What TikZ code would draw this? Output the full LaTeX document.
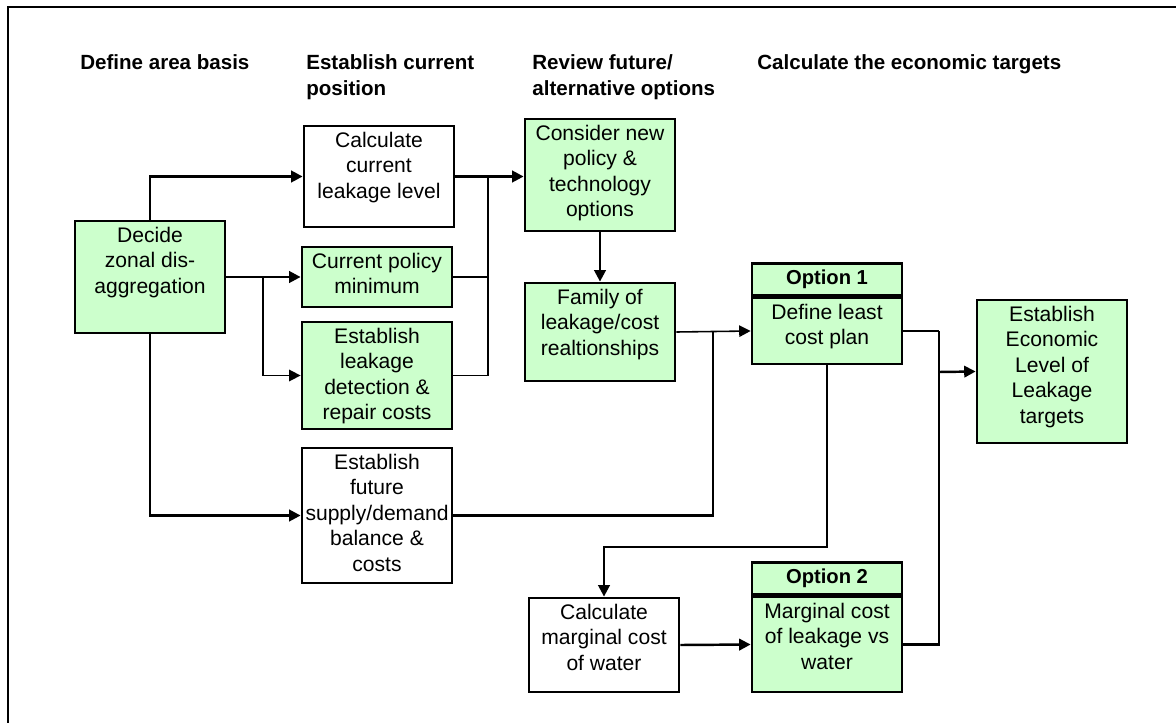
\documentclass[tikz,border=0pt]{standalone}
\usepackage{fontspec}
\setmainfont{Liberation Sans}
\usetikzlibrary{arrows.meta,positioning}
\definecolor{paleGreen}{HTML}{CCFFCC}
\newcommand{\boxtext}[2]{\parbox[c][#1][t]{2.9cm}{\centering\vspace*{0.12cm}#2}}

\begin{document}
\begin{tikzpicture}
    [
      x=0.02cm,
      y=-0.02cm,
      box/.style=
      {
        draw,
        line width=1.6pt,
        inner sep=0pt,
        minimum width=3cm,
        fill=white,
        text=black,
        font=\fontsize{12}{14.5}\selectfont
      },
      greenbox/.style=
      {
        box,
        fill=paleGreen
      },
      optbox/.style=
      {
        greenbox,
        minimum height=0.64cm,
        font=\fontsize{11.5}{14}\selectfont\bfseries
      },
      heading/.style=
      {
        anchor=north west,
        align=left,
        inner sep=0pt,
        font=\fontsize{11.7}{14.7}\selectfont\bfseries
      },
      conn/.style={line width=1.4pt},
      thinconn/.style={line width=0.9pt},
      arrowed/.style={-{Triangle[length=6.5pt,width=6.5pt]}}
    ]
    \useasboundingbox (0,0) rectangle (1176,723);
    \draw[line width=1.1pt] (8,723) -- (8,7) -- (1176,7);

    % column headings
    \node[heading] (AreaHead) at (80,54) {Define area basis};
    \node[heading] (PositionHead) at (306,54) {Establish current\\position};
    \node[heading] (OptionsHead) at (532,54) {Review future/\\alternative options};
    \node[heading] (TargetsHead) at (757,54) {Calculate the economic targets};

    % boxes
    \node[greenbox] (Decide) at (150,277)
    {
      \boxtext{2.24cm}{Decide\\zonal dis-\\aggregation}
    };
    \node[box] (CalcLeakage) at (379,176.5)
    {
      \boxtext{2.02cm}{Calculate\\current\\leakage level}
    };
    \node[greenbox] (PolicyMin) at (377,277)
    {
      \boxtext{1.2cm}{Current policy\\minimum}
    };
    \node[greenbox] (DetectCosts) at (377,375.5)
    {
      \boxtext{2.14cm}{Establish\\leakage\\detection \&\\repair costs}
    };
    \node[box] (FutureBalance) at (377,515.5)
    {
      \boxtext{2.7cm}{Establish\\future\\supply/demand\\balance \&\\costs}
    };
    \node[greenbox] (NewOptions) at (600,175)
    {
      \boxtext{2.24cm}{Consider new\\policy \&\\technology\\options}
    };
    \node[greenbox] (CostFamily) at (600,332)
    {
      \boxtext{1.96cm}{Family of\\leakage/cost\\realtionships}
    };
    \node[greenbox] (LeastCost) at (827,331)
    {
      \boxtext{1.32cm}{Define least\\cost plan}
    };
    \node[optbox, above=0pt of LeastCost] (OptionOne) {Option 1};
    \node[greenbox] (TargetELL) at (1052,371.5)
    {
      \boxtext{2.86cm}{Establish\\Economic\\Level of\\Leakage\\targets}
    };
    \node[box] (MarginalWater) at (604,645)
    {
      \boxtext{1.88cm}{Calculate\\marginal cost\\of water}
    };
    \node[greenbox] (MarginalCost) at (827,644.5)
    {
      \boxtext{1.9cm}{Marginal cost\\of leakage vs\\water}
    };
    \node[optbox, above=0pt of MarginalCost] (OptionTwo) {Option 2};

    % connectors
    \coordinate (SplitA) at (263,277);
    \coordinate (JoinA) at (488,177);
    \coordinate (JoinB) at (713,332);
    \coordinate (BendC) at (827,547);
    \coordinate (JoinC) at (939,372);

    \draw[conn, arrowed] (Decide.north) |- (CalcLeakage.west);
    \draw[conn, arrowed] (Decide.east) -- (PolicyMin.west);
    \draw[thinconn, arrowed] (SplitA) |- (DetectCosts.west);
    \draw[conn, arrowed] (Decide.south) |- (FutureBalance.west);
    \draw[conn, arrowed] (CalcLeakage.east) -- (CalcLeakage.east -| NewOptions.west);
    \draw[conn] (PolicyMin.east) -| (JoinA);
    \draw[thinconn] (DetectCosts.east) -- (DetectCosts.east -| JoinA);
    \draw[conn] (DetectCosts.east -| JoinA) -- (JoinA);
    \draw[conn, arrowed] (NewOptions.south) -- (CostFamily.north);
    \draw[thinconn, arrowed] (CostFamily.east) -- (LeastCost.west);
    \draw[conn] (FutureBalance.east) -| (JoinB);
    \draw[conn, arrowed] (LeastCost.south) -- (BendC) -| (MarginalWater.north);
    \draw[thinconn] (LeastCost.east) -- (LeastCost.east -| JoinC);
    \draw[conn] (LeastCost.east -| JoinC) -- (JoinC);
    \draw[conn] (MarginalCost.east) -| (JoinC);
    \draw[conn, arrowed] (JoinC) -- (TargetELL.west);
    \draw[conn, arrowed] (MarginalWater.east) -- (MarginalCost.west);
  \end{tikzpicture}
\end{document}
